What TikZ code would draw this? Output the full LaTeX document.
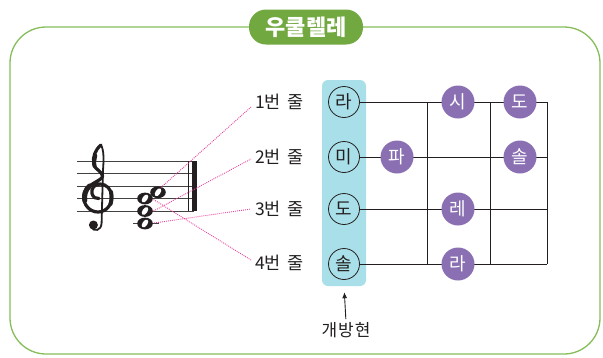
\documentclass[tikz,border=0pt]{standalone}
\usepackage{fontspec}
\setmainfont{Noto Sans CJK KR}
\usetikzlibrary{arrows.meta}
\definecolor{frameg}{HTML}{86BD5A}
\definecolor{pillg}{HTML}{72A840}
\definecolor{bandc}{HTML}{A9DFE8}
\definecolor{notep}{HTML}{8A70B2}
\definecolor{guidepink}{HTML}{E8409A}
\definecolor{ink}{HTML}{231F20}
\begin{document}
\begin{tikzpicture}[x=1pt,y=-1pt,
  openc/.style={circle,draw=ink,line width=0.8pt,minimum size=31pt,inner sep=0pt,font=\fontsize{18}{18}\selectfont,text=ink},
  fretc/.style={circle,fill=notep,text=white,minimum size=33pt,inner sep=0pt,font=\fontsize{18}{18}\selectfont},
  strlabel/.style={anchor=west,inner sep=0pt,font=\fontsize{17.5}{17.5}\selectfont,text=ink},
  gridline/.style={draw=ink,line width=0.8pt},
  guide/.style={draw=guidepink,line width=0.9pt,dash pattern=on 0.9pt off 1.1pt},
  staffline/.style={draw=ink!85,line width=0.9pt},
  notehole/.style={fill=white}]
\useasboundingbox (0,0) rectangle (603,357);
% frame and title
\draw[frameg,line width=1.3pt,rounded corners=36pt] (10,27) rectangle (600,354);
\node[fill=pillg,rounded corners=17pt,minimum width=114pt,minimum height=35pt,inner sep=0pt,text=white,font=\bfseries\fontsize{22}{22}\selectfont] (title) at (306,27) {우쿨렐레};
% staff
\foreach \yy in {161,173.5,186,198.5,211}{\draw[staffline] (77,\yy) -- (194,\yy);}
\draw[ink,line width=1pt] (188.5,161) -- (188.5,211);
\draw[ink,line width=4.5pt] (194.3,161) -- (194.3,211);
% ledger line
\draw[staffline] (133,223.5) -- (159,223.5);
% treble clef
\draw[ink,line width=1.8pt] (101,145) .. controls (104,150) and (103.8,160) .. (103,170) -- (101.6,223) .. controls (101.2,231) and (94,232) .. (91,227);
\fill[ink] (93.4,225) circle[radius=4.5pt];
\draw[ink,line width=3.2pt,line cap=round]
 (101,145) .. controls (95,150) and (92.5,157) .. (93.8,164)
 .. controls (95,170) and (102,171) .. (102.5,176)
 .. controls (103,181) and (84,184) .. (83.6,196)
 .. controls (83.3,205) and (90,212) .. (98,212)
 .. controls (106,212) and (111.8,205) .. (111.8,197)
 .. controls (111.8,189) and (106,184) .. (100,184)
 .. controls (94,184) and (91,189) .. (92,193.5)
 .. controls (93,197.5) and (96,199) .. (99,198.5);
\draw[ink,line width=5pt,line cap=round] (89.5,186) .. controls (85,190) and (84,196) .. (84.8,200.5);
\draw[ink,line width=4pt,line cap=round] (95.2,155.5) .. controls (94,159) and (94,163) .. (94.5,166);
\draw[ink,line width=4pt,line cap=round] (111,192) .. controls (111.8,196) and (111.6,201) .. (110.5,204);
% whole notes
\foreach \nx/\ny in {158/192.25,145/198.5,145/211,145/223.5}{
  \fill[ink] (\nx,\ny) ellipse[x radius=7.8pt,y radius=5.9pt];
  \fill[notehole,rotate around={-35:(\nx,\ny)}] (\nx,\ny) ellipse[x radius=2.5pt,y radius=4.5pt];
}
\coordinate (gA) at (161,187.5);
\coordinate (gE) at (153.5,211);
\coordinate (gC) at (154,223);
\coordinate (gG) at (153.5,199.5);
% string labels
\node[strlabel] (l1) at (255,102) {1번\hspace{0.15em} 줄};
\node[strlabel] (l2) at (255,157) {2번\hspace{0.15em} 줄};
\node[strlabel] (l3) at (255,209) {3번\hspace{0.15em} 줄};
\node[strlabel] (l4) at (255,263) {4번\hspace{0.15em} 줄};
\draw[guide] (gA) -- ([shift={(-4pt,-5pt)}]l1.west);
\draw[guide] (gE) -- ([shift={(-4pt,-2pt)}]l2.west);
\draw[guide] (gC) -- ([shift={(-4pt,0pt)}]l3.west);
\draw[guide] (gG) -- ([shift={(-4pt,3pt)}]l4.west);
% open strings band
\node[fill=bandc,rounded corners=6pt,minimum width=44pt,minimum height=206pt,inner sep=0pt] (band) at (344,183) {};
\node[openc] (s1) at (344,102) {라};
\node[openc] (s2) at (344,157) {미};
\node[openc] (s3) at (344,209) {도};
\node[openc] (s4) at (344,264) {솔};
% fretboard grid
\coordinate (e1) at (547,102);
\coordinate (e2) at (547,157);
\coordinate (e3) at (547,209);
\coordinate (e4) at (547,264);
\coordinate (t1) at (427,102); \coordinate (b1) at (427,264);
\coordinate (t2) at (490,102); \coordinate (b2) at (490,264);
\draw[gridline] (s1.east) -- (e1);
\draw[gridline] (s2.east) -- (e2);
\draw[gridline] (s3.east) -- (e3);
\draw[gridline] (s4.east) -- (e4);
\draw[gridline] (t1) -- (b1);
\draw[gridline] (t2) -- (b2);
\draw[gridline] (e1) -- (e4);
% fretted notes
\node[fretc] (f1) at (397,157) {파};
\node[fretc] (f2) at (458,102) {시};
\node[fretc] (f3) at (520,102) {도};
\node[fretc] (f4) at (520,157) {솔};
\node[fretc] (f5) at (458,209) {레};
\node[fretc] (f6) at (458,264) {라};
% open string caption
\node[inner sep=0pt,font=\fontsize{17}{17}\selectfont\addfontfeatures{LetterSpace=6},text=ink] (openlbl) at (346,330) {개방현};
\draw[ink,line width=0.9pt,-{Latex[length=6pt,width=5pt]},shorten <=3pt,shorten >=6pt] (openlbl.north) -- (band.south);
\end{tikzpicture}
\end{document}
